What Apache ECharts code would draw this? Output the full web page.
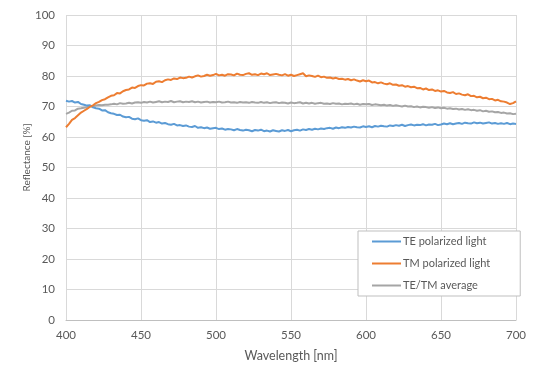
<!DOCTYPE html>
<html>
<head>
<meta charset="utf-8">
<script src="https://cdn.jsdelivr.net/npm/echarts@6/dist/echarts.min.js"></script>
<style>html,body{margin:0;padding:0;background:#fff;}#c{width:540px;height:380px;}</style>
</head>
<body>
<div id="c"></div>
<script>
// Wavelength sampling (nm), 2 nm steps from 400 to 700
const wlStart = 400, wlStep = 2;
const xTicks = [400, 450, 500, 550, 600, 650, 700];
const yTicks = [0, 10, 20, 30, 40, 50, 60, 70, 80, 90, 100];
const seriesNames = ['TE polarized light', 'TM polarized light', 'TE/TM average'];

const teValues = [
71.9,71.6,71.8,71.3,71.5,70.8,70.6,70.3,70.4,69.7,69.4,
69.3,68.7,68.8,68.1,67.8,67.6,67.2,67.3,66.7,66.5,
66.6,66.0,65.8,66.1,65.5,65.3,65.5,64.9,65.1,64.7,
64.9,64.4,64.6,64.2,64.0,64.3,63.8,63.9,63.6,63.8,
63.4,63.3,63.6,63.0,63.2,62.9,63.1,62.7,62.9,63.0,
62.6,62.8,62.4,62.6,62.5,62.2,62.6,62.3,62.1,62.4,
62.2,61.9,62.3,62.1,62.4,61.9,62.1,61.8,62.2,62.0,
61.8,62.2,62.0,62.3,61.9,62.2,62.4,62.1,62.5,62.3,
62.6,62.4,62.7,62.5,62.8,62.6,62.9,63.0,62.7,63.1,
62.9,63.2,63.0,63.3,63.1,63.4,63.2,63.1,63.5,63.3,
63.5,63.2,63.6,63.4,63.7,63.5,63.4,63.8,63.6,63.9,
63.7,64.0,63.6,63.9,64.1,63.8,64.0,63.9,64.2,63.8,
64.1,64.0,64.3,63.9,64.1,64.4,64.2,64.5,64.2,64.4,
64.6,64.3,64.7,64.5,64.4,64.8,64.5,64.7,64.4,64.6,
64.8,64.4,64.6,64.3,64.5,64.3,64.6,64.2,64.4,64.3
];

const tmValues = [
63.2,64.3,65.6,66.2,67.1,68.0,68.6,69.2,69.9,70.4,71.1,
71.5,72.1,72.4,73.0,73.5,73.7,74.4,74.3,75.0,75.4,
75.6,76.2,76.1,76.7,77.0,76.9,77.5,77.6,77.4,78.1,
78.3,78.0,78.6,78.9,78.7,79.2,79.0,79.5,79.3,79.4,
79.8,79.5,79.9,80.2,79.8,80.0,80.4,80.1,80.3,80.7,
80.2,80.4,80.1,80.6,80.5,80.2,80.8,80.4,80.3,80.7,
80.9,80.4,80.6,80.3,80.8,80.6,80.9,80.3,80.5,80.7,
80.4,80.2,80.6,80.1,80.4,80.0,80.3,80.6,80.9,79.9,
80.2,80.0,79.7,80.1,79.6,79.8,79.4,79.5,79.2,79.4,
79.0,79.1,78.8,79.0,78.6,78.9,78.5,78.2,78.6,78.3,
78.5,77.9,78.0,77.6,77.9,77.5,77.3,77.6,77.1,77.2,
76.8,77.0,76.5,76.7,76.3,76.5,76.0,76.1,75.6,75.9,
75.4,75.6,75.1,75.3,74.9,75.1,74.6,74.4,74.7,74.1,
74.3,73.9,73.7,74.0,73.4,73.5,73.0,73.2,72.7,72.9,
72.4,72.5,72.0,72.2,71.7,71.6,71.3,70.8,71.1,71.7
];

const avgValues = [
67.6,68.0,68.6,68.7,69.3,69.4,69.6,69.8,70.2,70.1,70.3,
70.5,70.4,70.6,70.6,70.7,70.9,70.7,71.1,70.9,71.0,
71.2,71.0,71.3,71.4,71.2,71.5,71.3,71.6,71.3,71.5,
71.7,71.4,71.6,71.5,71.8,71.4,71.6,71.7,71.4,71.6,
71.5,71.7,71.4,71.6,71.3,71.5,71.6,71.3,71.5,71.4,
71.6,71.3,71.4,71.6,71.3,71.4,71.2,71.5,71.3,71.4,
71.2,71.5,71.3,71.2,71.5,71.2,71.4,71.1,71.3,71.4,
71.1,71.3,71.2,71.0,71.3,71.1,71.2,71.4,71.0,71.2,
71.0,71.2,70.9,71.1,71.2,70.9,71.0,70.8,71.1,70.9,
71.0,70.7,70.9,70.8,71.0,70.7,70.9,70.6,70.8,70.7,
70.8,70.5,70.7,70.6,70.4,70.6,70.3,70.5,70.2,70.4,
70.2,70.0,70.3,70.0,70.1,69.8,70.0,69.7,69.9,69.8,
69.6,69.8,69.5,69.7,69.4,69.6,69.3,69.4,69.2,69.3,
69.0,69.2,68.9,69.1,68.8,68.9,68.6,68.8,68.4,68.6,
68.3,68.4,68.1,68.2,67.9,68.0,67.7,67.8,67.5,67.6
];

const colors = ['#5B9BD5', '#ED7D31', '#A5A5A5'];
const pair = vals => vals.map((v, i) => [wlStart + wlStep * i, v]);

const chart = echarts.init(document.getElementById('c'), null, {renderer: 'canvas'});
const font = 'Lato';
chart.setOption({
  animation: false,
  backgroundColor: '#ffffff',
  textStyle: {fontFamily: font},
  grid: {left: 66, right: 24, top: 15, bottom: 60, containLabel: false},
  xAxis: {
    type: 'value', min: xTicks[0], max: xTicks[xTicks.length - 1], interval: 50,
    name: 'Wavelength [nm]', nameLocation: 'middle', nameGap: 29, nameMoveOverlap: false,
    nameTextStyle: {color: '#595959', fontSize: 12.5, fontFamily: font},
    axisLine: {show: true, lineStyle: {color: '#bfbfbf', width: 1}},
    axisTick: {show: false},
    axisLabel: {color: '#595959', fontSize: 11.5, margin: 9, fontFamily: font},
    splitLine: {show: true, lineStyle: {color: '#d9d9d9', width: 1}}
  },
  yAxis: {
    type: 'value', min: yTicks[0], max: yTicks[yTicks.length - 1], interval: 10,
    name: 'Reflectance [%]', nameLocation: 'middle', nameGap: 34, nameRotate: 90, nameMoveOverlap: false,
    nameTextStyle: {color: '#595959', fontSize: 10, fontFamily: font, padding: [0, 0, 0, 20]},
    axisLine: {show: false},
    axisTick: {show: false},
    axisLabel: {color: '#595959', fontSize: 11.5, margin: 11, fontFamily: font},
    splitLine: {show: true, lineStyle: {color: '#d9d9d9', width: 1}}
  },
  legend: {
    orient: 'vertical', left: 358, top: 231, width: 146,
    backgroundColor: '#ffffff', borderColor: '#bfbfbf', borderWidth: 1,
    padding: [5, 30, 5, 14],
    itemWidth: 29, itemHeight: 2, itemGap: 11, icon: 'rect',
    textStyle: {color: '#595959', fontSize: 11, fontFamily: font, padding: [0,0,0,-3]},
    data: seriesNames
  },
  series: [
    {name: seriesNames[0], type: 'line', data: pair(teValues), showSymbol: false, symbol: 'none', lineStyle: {color: colors[0], width: 2}, itemStyle: {color: colors[0]}, z: 3},
    {name: seriesNames[1], type: 'line', data: pair(tmValues), showSymbol: false, symbol: 'none', lineStyle: {color: colors[1], width: 2}, itemStyle: {color: colors[1]}, z: 4},
    {name: seriesNames[2], type: 'line', data: pair(avgValues), showSymbol: false, symbol: 'none', lineStyle: {color: colors[2], width: 2}, itemStyle: {color: colors[2]}, z: 2}
  ]
});
</script>
</body>
</html>
